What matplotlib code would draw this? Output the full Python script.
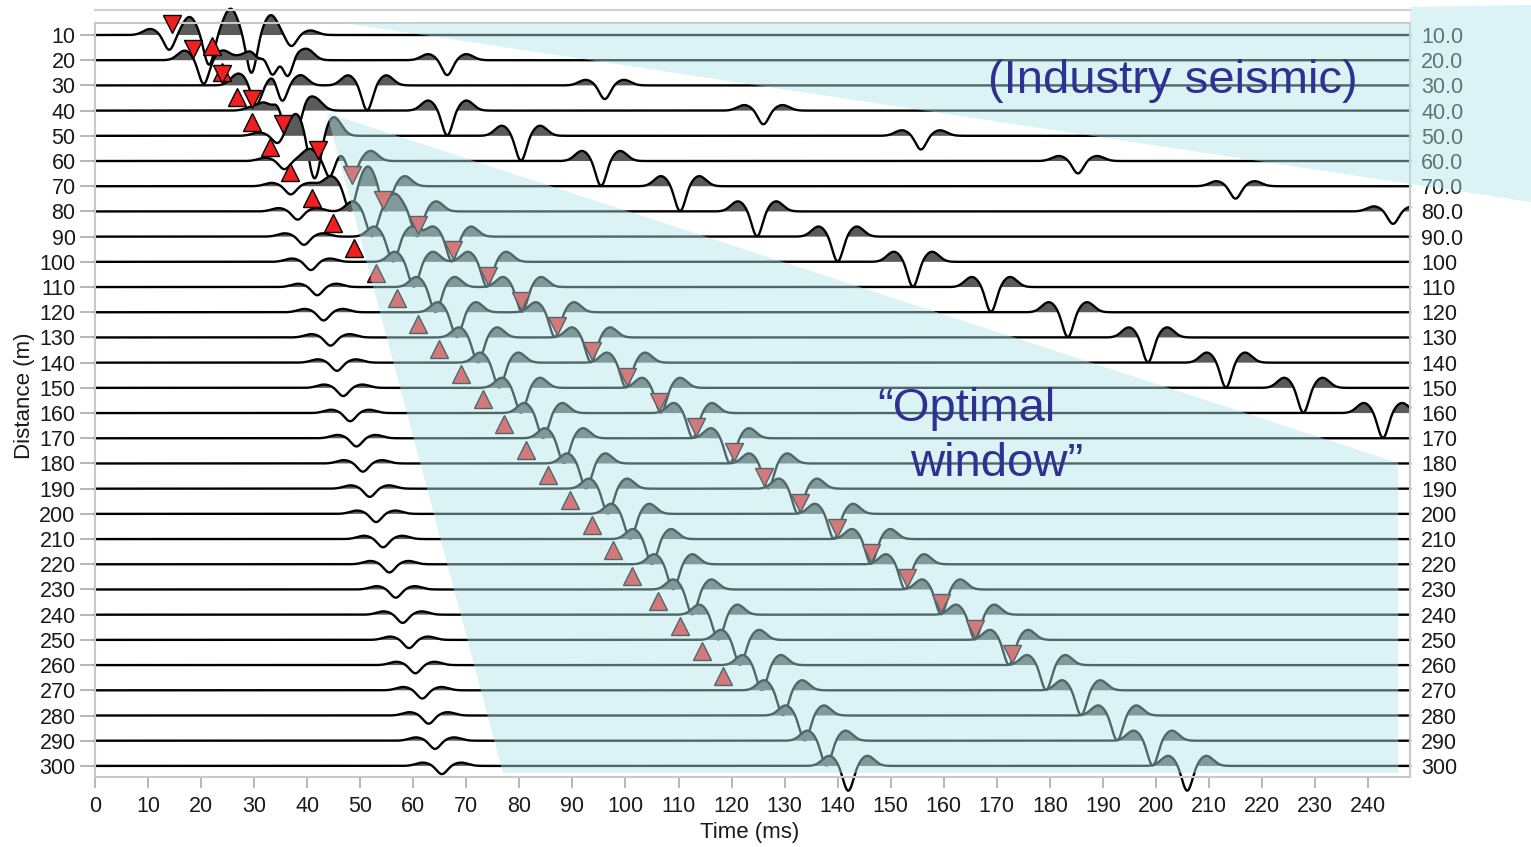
import numpy as np
import matplotlib.pyplot as plt
from matplotlib.patches import Polygon
from matplotlib.lines import Line2D

plt.rcParams['font.family'] = ['Liberation Sans', 'DejaVu Sans']

# offsets (m) of the traces
distances = [10, 20, 30, 40, 50, 60, 70, 80, 90, 100, 110, 120, 130, 140, 150,
             160, 170, 180, 190, 200, 210, 220, 230, 240, 250, 260, 270, 280, 290, 300]
right_labels = ['10.0', '20.0', '30.0', '40.0', '50.0', '60.0', '70.0', '80.0', '90.0',
                '100', '110', '120', '130', '140', '150', '160', '170', '180', '190', '200',
                '210', '220', '230', '240', '250', '260', '270', '280', '290', '300']
time_ticks = [0, 10, 20, 30, 40, 50, 60, 70, 80, 90, 100, 110, 120, 130, 140, 150,
              160, 170, 180, 190, 200, 210, 220, 230, 240]

# arrival times (ms) of the trough of each event
direct_t = [29.5, 30.8, 32.0, 33.2, 34.5, 35.7, 36.9, 38.2, 39.4, 40.7, 41.9, 43.1, 44.4, 45.6, 46.8,
            48.1, 49.3, 50.5, 51.8, 53.0, 54.3, 55.5, 56.7, 58.0, 59.2, 60.4, 61.7, 62.9, 64.1, 65.4]
direct_amp = [3.3, 3.3, 3.3, 3.3, 3.3, 3.3, 3.3, 3.3, 3.3, 3.3, 3.3, 3.3, 3.3, 3.3, 3.3,
              3.3, 3.3, 3.3, 3.3, 3.3, 3.3, 3.3, 3.3, 3.3, 3.3, 3.3, 3.3, 3.3, 3.3, 3.3]

slow1_dist = [10, 20, 30, 40, 50, 60, 70, 80]
slow1_t = [37.0, 66.4, 96.1, 126.0, 155.7, 185.3, 215.0, 244.7]
slow1_amp = [4.5, 6.0, 5.5, 5.5, 5.5, 5.0, 5.0, 5.0]

slow2_dist = [10, 20, 30, 40, 50, 60, 70, 80, 90, 100, 110, 120, 130, 140, 150, 160]
slow2_t = [21.5, 36.4, 51.3, 66.4, 80.3, 95.4, 110.3, 124.8, 140.0, 154.2, 168.9, 183.4,
           198.5, 213.2, 227.8, 242.8]
slow2_amp = [12.0, 10.5, 10.0, 10.0, 10.0, 10.0, 10.0, 10.0, 10.0, 10.0, 10.0, 10.0, 10.0, 10.0,
             10.0, 10.0]

refl1_t = [29.5, 33.4, 35.2, 38.1, 40.9, 44.3, 48.1, 52.2, 56.2, 60.1, 64.2, 68.2, 72.2, 76.2, 80.3,
           84.5, 88.4, 92.6, 96.7, 100.9, 105.0, 109.0, 112.6, 117.5, 121.6, 125.7, 129.7, 133.8,
           137.9, 142.0]
refl1_amp = [12.0, 10.5, 10.0, 10.0, 10.0, 10.0, 10.0, 10.0, 10.0, 10.0, 10.0, 10.0, 10.0, 10.0, 10.0,
             10.0, 10.0, 10.0, 10.0, 10.0, 10.0, 10.0, 10.0, 10.0, 10.0, 10.0, 10.0, 10.0, 10.0, 10.0]

refl2_t = [14.0, 20.5, 30.4, 36.0, 41.9, 48.4, 54.8, 60.7, 67.3, 73.9, 80.5, 86.7, 93.5, 100.1, 106.7,
           112.7, 119.7, 126.9, 132.5, 139.3, 146.3, 152.7, 159.5, 165.9, 172.3, 179.3, 185.9,
           192.7, 199.4, 205.9]
refl2_amp = [6.0, 9.5, 10.0, 10.0, 10.0, 10.0, 10.0, 10.0, 10.0, 10.0, 10.0, 10.0, 10.0, 10.0, 10.0,
             10.0, 10.0, 10.0, 10.0, 10.0, 10.0, 10.0, 10.0, 10.0, 10.0, 10.0, 10.0, 10.0, 10.0, 10.0]

# first-break picks
pick_up_dist = [20, 30, 40, 50, 60, 70, 80, 90, 100, 110, 120, 130, 140, 150, 160, 170, 180,
                190, 200, 210, 220, 230, 240, 250, 260, 270]
pick_up_t = [22.1, 23.9, 26.8, 29.6, 33.0, 36.8, 40.9, 44.9, 48.8, 52.9, 56.9, 60.9, 64.9, 69.0,
             73.2, 77.1, 81.3, 85.4, 89.6, 93.7, 97.7, 101.3, 106.2, 110.3, 114.4, 118.4]
pick_dn_dist = [10, 20, 30, 40, 50, 60, 70, 80, 90, 100, 110, 120, 130, 140, 150, 160, 170, 180,
                190, 200, 210, 220, 230, 240, 250, 260]
pick_dn_t = [14.5, 18.5, 24.0, 29.6, 35.5, 42.0, 48.4, 54.3, 60.9, 67.5, 74.1, 80.3, 87.1, 93.7,
             100.3, 106.3, 113.3, 120.5, 126.1, 132.9, 139.9, 146.3, 153.1, 159.5, 165.9, 172.9]

# shaded zones (time ms, distance m)
window_t = [43.7, 245.7, 245.7, 76.9]
window_d = [40.9, 179.8, 302.8, 302.8]
industry_t = [46.8, 247.9, 247.9, 270.7, 270.7]
industry_d = [5.2, 5.2, -1.1, -1.9, 76.3]


def wavelet(tau):
    # narrow trough (positive = downward) flanked by two broad lobes
    trough = np.exp(-tau ** 2 / (2 * 0.95 ** 2))
    lobes = np.exp(-(tau - 3.6) ** 2 / (2 * 1.3 ** 2)) + np.exp(-(tau + 3.6) ** 2 / (2 * 1.3 ** 2))
    return trough - 0.4 * lobes


fig = plt.figure(figsize=(15.31, 8.47), dpi=100)
ax = fig.add_axes([0.06205, 0.08264, 0.85892, 0.89020])
t = np.linspace(0, 247.9, 6000)

for i, d in enumerate(distances):
    s = direct_amp[i] * wavelet(t - direct_t[i])
    s += refl1_amp[i] * wavelet(t - refl1_t[i])
    s += refl2_amp[i] * wavelet(t - refl2_t[i])
    if d in slow1_dist:
        j = slow1_dist.index(d)
        s += slow1_amp[j] * wavelet(t - slow1_t[j])
    if d in slow2_dist:
        j = slow2_dist.index(d)
        s += slow2_amp[j] * wavelet(t - slow2_t[j])
    y = d + s
    ax.fill_between(t, d, y, where=s < 0, interpolate=True, color='#5a5a5a', lw=0,
                    zorder=2 + i * 0.01, clip_on=False)
    ax.plot(t, y, color='black', lw=1.7, zorder=2.005 + i * 0.01, clip_on=False)

ax.plot(pick_up_t, np.array(pick_up_dist) - 5.5, '^', ms=13, mfc='#f02020', mec='black', mew=1.0,
        zorder=4, ls='none', clip_on=False)
ax.plot(pick_dn_t, np.array(pick_dn_dist) - 4.5, 'v', ms=12.5, mfc='#f02020', mec='black', mew=1.0,
        zorder=4, ls='none', clip_on=False)

ax.set_xlim(0, 247.9)
ax.set_ylim(304.4, 5.24)
ax.set_xticks(time_ticks)
ax.set_yticks(distances)
ax.set_yticklabels([str(d) for d in distances])
for sp in ax.spines.values():
    sp.set_color('#c8c8c8')
    sp.set_linewidth(1.5)
ax.tick_params(axis='x', length=8, width=1.2, color='#aaaaaa', pad=6, labelsize=15.5, labelcolor='#1a1a1a')
ax.tick_params(axis='y', length=11, width=1.2, color='#aaaaaa', pad=3, labelsize=15.5, labelcolor='#1a1a1a')
ax.set_xlabel('Time (ms)', fontsize=16, color='#1a1a1a')
ax.xaxis.set_label_coords(0.498, -0.060)
ax.set_ylabel('Distance (m)', fontsize=16, color='#1a1a1a')
ax.yaxis.set_label_coords(-0.046, 0.505)

ax2 = ax.twinx()
ax2.set_ylim(304.4, 5.24)
ax2.set_yticks(distances)
ax2.set_yticklabels(right_labels)
ax2.tick_params(axis='y', length=0, pad=8, labelsize=15.5, labelcolor='#1a1a1a')
for sp in ax2.spines.values():
    sp.set_visible(False)

# faint line above the frame
fig.add_artist(Line2D([0, 247.9], [0, 0], transform=ax.transData, color='#d0d0d0', lw=1.5, zorder=1))

teal = (0.69, 0.90, 0.92)
fig.add_artist(Polygon(np.column_stack([industry_t, industry_d]), closed=True, transform=ax.transData,
                       facecolor=teal, edgecolor='none', alpha=0.45, zorder=10))
fig.add_artist(Polygon(np.column_stack([window_t, window_d]), closed=True, transform=ax.transData,
                       facecolor=teal, edgecolor='none', alpha=0.45, zorder=10))

blue = '#2e3192'
fig.text(168.4, 33.0, '(Industry seismic)', transform=ax.transData, fontsize=34, color=blue,
         ha='left', va='baseline', zorder=20)
fig.text(147.4, 163.1, '\u201cOptimal', transform=ax.transData, fontsize=34, color=blue,
         ha='left', va='baseline', zorder=20)
fig.text(153.7, 185.0, 'window\u201d', transform=ax.transData, fontsize=34, color=blue,
         ha='left', va='baseline', zorder=20)

fig.savefig('out.png', dpi=100)
